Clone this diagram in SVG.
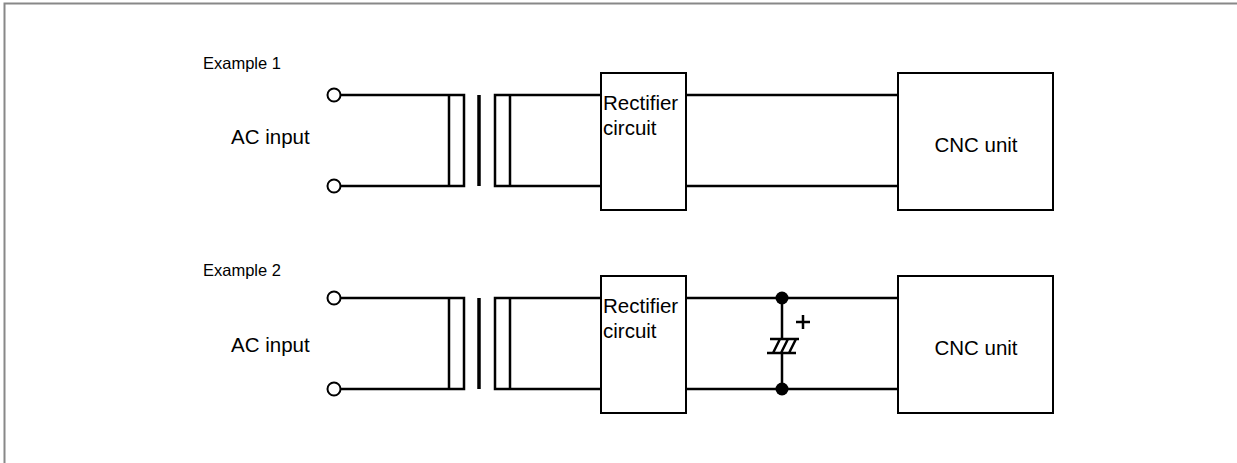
<svg xmlns="http://www.w3.org/2000/svg" width="1237" height="463" viewBox="0 0 1237 463">
<style>
.t{font-family:"Liberation Sans",Arial,sans-serif;font-size:20.5px;fill:#000}
.ex{font-size:16.5px}
.w{stroke:#000;stroke-width:2.5;fill:none}
.b{stroke:#000;stroke-width:2;fill:#fff}
.term{stroke:#000;stroke-width:2;fill:#fff}
.core{stroke:#000;stroke-width:3.5}
</style>
<rect x="0" y="0" width="1237" height="463" fill="#fff"/>
<path d="M4.5,463 V3.5 H1237" stroke="#888" stroke-width="2" fill="none"/>
<defs>
<g id="circuit">
<g class="connectors">
<path class="w" d="M341,95 H464 V186 H341"/>
<path class="w" d="M449,95 V186"/>
<line class="core" x1="479" y1="95" x2="479" y2="186"/>
<path class="w" d="M601,95 H495 V186 H601"/>
<path class="w" d="M510,95 V186"/>
<path class="w" d="M686,95 H898 M686,186 H898"/>
</g>
<circle class="term" cx="334" cy="95" r="6.5"/>
<circle class="term" cx="334" cy="186" r="6.5"/>
<rect class="b" x="601" y="73" width="85" height="137"/>
<rect class="b" x="898" y="73" width="155" height="137"/>
</g>
</defs>
<g id="example1">
<text class="t ex" x="203" y="69">Example 1</text>
<text class="t" x="231" y="144">AC input</text>
<use href="#circuit"/>
<text class="t" x="603" y="110">Rectifier</text>
<text class="t" x="603" y="135">circuit</text>
<text class="t" x="976" y="152" text-anchor="middle">CNC unit</text>
</g>
<g id="example2">
<text class="t ex" x="203" y="276">Example 2</text>
<text class="t" x="231" y="352">AC input</text>
<use href="#circuit" y="203"/>
<text class="t" x="603" y="313">Rectifier</text>
<text class="t" x="603" y="338">circuit</text>
<text class="t" x="976" y="355" text-anchor="middle">CNC unit</text>
</g>
<g id="capacitor">
<path class="w" d="M782,298 V339 M782,353 V389"/>
<path stroke="#000" stroke-width="2.5" fill="none" d="M770,339 H799 M767,353 H796 M780,339 L773,353 M788,339 L781,353 M796,339 L789,353"/>
<circle cx="782" cy="298" r="6.5" fill="#000"/>
<circle cx="782" cy="389" r="6.5" fill="#000"/>
<path stroke="#000" stroke-width="2.5" d="M796,322 H810 M803,315 V329"/>
</g>
</svg>
